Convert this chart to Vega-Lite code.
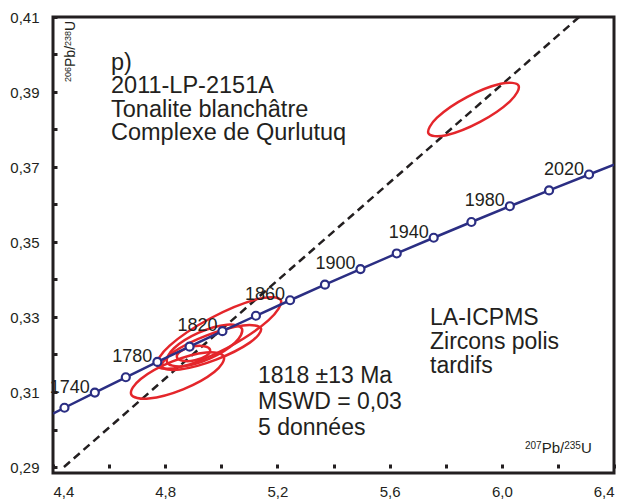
{
 "$schema": "https://vega.github.io/schema/vega-lite/v6.json",
 "width": 561, "height": 456,
 "autosize": {"type": "none"},
 "padding": {"left": 53, "top": 17, "right": 14, "bottom": 29},
 "background": "white",
 "config": {"view": {"stroke": "#231f20", "strokeWidth": 3}, "font": "Liberation Sans"},
 "datasets": {
  "conc": [
   {"t": 1712.3, "x": 4.4, "y": 0.30424, "m": 0},
   {"t": 1720, "x": 4.44089, "y": 0.30580, "m": 1},
   {"t": 1740, "x": 4.54912, "y": 0.30986, "m": 1, "label": "1740"},
   {"t": 1760, "x": 4.65950, "y": 0.31393, "m": 1},
   {"t": 1780, "x": 4.77208, "y": 0.31801, "m": 1, "label": "1780"},
   {"t": 1800, "x": 4.88689, "y": 0.32210, "m": 1},
   {"t": 1820, "x": 5.00400, "y": 0.32621, "m": 1, "label": "1820"},
   {"t": 1840, "x": 5.12342, "y": 0.33033, "m": 1},
   {"t": 1860, "x": 5.24523, "y": 0.33447, "m": 1, "label": "1860"},
   {"t": 1880, "x": 5.36946, "y": 0.33861, "m": 1},
   {"t": 1900, "x": 5.49617, "y": 0.34277, "m": 1, "label": "1900"},
   {"t": 1920, "x": 5.62539, "y": 0.34694, "m": 1},
   {"t": 1940, "x": 5.75719, "y": 0.35113, "m": 1, "label": "1940"},
   {"t": 1960, "x": 5.89160, "y": 0.35533, "m": 1},
   {"t": 1980, "x": 6.02870, "y": 0.35954, "m": 1, "label": "1980"},
   {"t": 2000, "x": 6.16852, "y": 0.36376, "m": 1},
   {"t": 2020, "x": 6.31111, "y": 0.36800, "m": 1, "label": "2020"},
   {"t": 2032.3, "x": 6.4, "y": 0.37062, "m": 0}
  ],
  "ell": [
   {"id": "E1", "k": 0, "x": 5.00912, "y": 0.319395},
   {"id": "E1", "k": 1, "x": 4.94655, "y": 0.320555},
   {"id": "E1", "k": 2, "x": 4.82382, "y": 0.318109},
   {"id": "E1", "k": 3, "x": 4.71282, "y": 0.313491},
   {"id": "E1", "k": 4, "x": 4.67858, "y": 0.309405},
   {"id": "E1", "k": 5, "x": 4.74115, "y": 0.308245},
   {"id": "E1", "k": 6, "x": 4.86388, "y": 0.310691},
   {"id": "E1", "k": 7, "x": 4.97488, "y": 0.315309},
   {"id": "E2", "k": 0, "x": 5.21214, "y": 0.334496},
   {"id": "E2", "k": 1, "x": 5.12748, "y": 0.334760},
   {"id": "E2", "k": 2, "x": 4.96335, "y": 0.329736},
   {"id": "E2", "k": 3, "x": 4.81588, "y": 0.322367},
   {"id": "E2", "k": 4, "x": 4.77146, "y": 0.316970},
   {"id": "E2", "k": 5, "x": 4.85612, "y": 0.316706},
   {"id": "E2", "k": 6, "x": 5.02025, "y": 0.321730},
   {"id": "E2", "k": 7, "x": 5.16772, "y": 0.329099},
   {"id": "E3", "k": 0, "x": 5.07364, "y": 0.326847},
   {"id": "E3", "k": 1, "x": 5.02018, "y": 0.327956},
   {"id": "E3", "k": 2, "x": 4.91981, "y": 0.325811},
   {"id": "E3", "k": 3, "x": 4.83134, "y": 0.321667},
   {"id": "E3", "k": 4, "x": 4.80658, "y": 0.317953},
   {"id": "E3", "k": 5, "x": 4.86005, "y": 0.316844},
   {"id": "E3", "k": 6, "x": 4.96041, "y": 0.318989},
   {"id": "E3", "k": 7, "x": 5.04888, "y": 0.323133},
   {"id": "E4", "k": 0, "x": 4.96017, "y": 0.321210},
   {"id": "E4", "k": 1, "x": 4.93914, "y": 0.322225},
   {"id": "E4", "k": 2, "x": 4.89570, "y": 0.322093},
   {"id": "E4", "k": 3, "x": 4.85530, "y": 0.320892},
   {"id": "E4", "k": 4, "x": 4.84161, "y": 0.319324},
   {"id": "E4", "k": 5, "x": 4.86264, "y": 0.318309},
   {"id": "E4", "k": 6, "x": 4.90608, "y": 0.318441},
   {"id": "E4", "k": 7, "x": 4.94648, "y": 0.319642},
   {"id": "E5", "k": 0, "x": 5.14146, "y": 0.326932},
   {"id": "E5", "k": 1, "x": 5.07805, "y": 0.327737},
   {"id": "E5", "k": 2, "x": 4.94845, "y": 0.325103},
   {"id": "E5", "k": 3, "x": 4.82858, "y": 0.320574},
   {"id": "E5", "k": 4, "x": 4.78866, "y": 0.316802},
   {"id": "E5", "k": 5, "x": 4.85207, "y": 0.315997},
   {"id": "E5", "k": 6, "x": 4.98167, "y": 0.318631},
   {"id": "E5", "k": 7, "x": 5.10154, "y": 0.323160},
   {"id": "E6", "k": 0, "x": 6.05964, "y": 0.391718},
   {"id": "E6", "k": 1, "x": 5.99605, "y": 0.392179},
   {"id": "E6", "k": 2, "x": 5.87568, "y": 0.388629},
   {"id": "E6", "k": 3, "x": 5.76903, "y": 0.383149},
   {"id": "E6", "k": 4, "x": 5.73858, "y": 0.378948},
   {"id": "E6", "k": 5, "x": 5.80217, "y": 0.378488},
   {"id": "E6", "k": 6, "x": 5.92254, "y": 0.382037},
   {"id": "E6", "k": 7, "x": 6.02919, "y": 0.387517}
  ],
  "disc": [
   {"x": 4.4390, "y": 0.29},
   {"x": 6.2758, "y": 0.41}
  ]
 },
 "encoding": {
  "x": {"field": "x", "type": "quantitative",
   "scale": {"domain": [4.4, 6.4], "nice": false, "zero": false},
   "axis": {"values": [4.4, 4.6, 4.8, 5.0, 5.2, 5.4, 5.6, 5.8, 6.0, 6.2, 6.4],
    "title": null, "grid": false, "domain": false,
    "tickSize": -4, "tickWidth": 3, "tickColor": "#231f20", "offset": -5,
    "labelPadding": 20, "labelFontSize": 15, "labelColor": "#231f20", "labelFont": "Liberation Sans",
    "labelOverlap": false,
    "labelExpr": "(round(datum.value*10)%4==0) ? replace(format(datum.value,'.1f'),'.',',') : ''"}},
  "y": {"field": "y", "type": "quantitative",
   "scale": {"domain": [0.2884, 0.41], "nice": false, "zero": false},
   "axis": {"values": [0.29, 0.30, 0.31, 0.32, 0.33, 0.34, 0.35, 0.36, 0.37, 0.38, 0.39, 0.40, 0.41],
    "title": null, "grid": false, "domain": false,
    "tickSize": -4, "tickWidth": 3, "tickColor": "#231f20",
    "labelPadding": 18, "labelFontSize": 15, "labelColor": "#231f20", "labelFont": "Liberation Sans",
    "labelFlush": false, "labelOverlap": false,
    "labelExpr": "(round(datum.value*100)%2==1) ? replace(format(datum.value,'.2f'),'.',',') : ''"}}
 },
 "layer": [
  {"data": {"name": "disc"}, "mark": {"type": "line", "color": "#231f20", "strokeWidth": 2.5, "strokeDash": [8, 5], "clip": true}},
  {"data": {"name": "ell"}, "mark": {"type": "line", "interpolate": "cardinal-closed", "color": "#e4262b", "strokeWidth": 2.5, "clip": true},
   "encoding": {"detail": {"field": "id"}, "order": {"field": "k", "type": "quantitative"}}},
  {"data": {"name": "conc"}, "mark": {"type": "line", "color": "#2b2e83", "strokeWidth": 2.5, "clip": true},
   "encoding": {"order": {"field": "t", "type": "quantitative"}}},
  {"data": {"name": "conc"}, "transform": [{"filter": "datum.m == 1"}],
   "mark": {"type": "point", "shape": "circle", "filled": true, "fill": "white", "stroke": "#2b2e83", "strokeWidth": 2.2, "size": 64, "opacity": 1}},
  {"data": {"name": "conc"}, "transform": [{"filter": "isValid(datum.label)"}],
   "mark": {"type": "text", "align": "right", "baseline": "alphabetic", "dx": -5, "dy": 0, "fontSize": 18, "color": "#231f20", "font": "Liberation Sans"},
   "encoding": {"text": {"field": "label"}}},
  {"data": {"values": [{"x": 4.6068, "y": 0.395867, "txt": "p)\n2011-LP-2151A\nTonalite blanchâtre\nComplexe de Qurlutuq"}]},
   "mark": {"type": "text", "align": "left", "baseline": "alphabetic", "fontSize": 23.5, "lineHeight": 23.5, "lineBreak": "\n", "color": "#231f20", "font": "Liberation Sans"},
   "encoding": {"text": {"field": "txt"}}},
  {"data": {"values": [{"x": 5.13084, "y": 0.3124, "txt": "1818 ±13 Ma\nMSWD = 0,03\n5 données"}]},
   "mark": {"type": "text", "align": "left", "baseline": "alphabetic", "fontSize": 23, "lineHeight": 26, "lineBreak": "\n", "color": "#231f20", "font": "Liberation Sans"},
   "encoding": {"text": {"field": "txt"}}},
  {"data": {"values": [{"x": 5.74403, "y": 0.327867, "txt": "LA-ICPMS\nZircons polis\ntardifs"}]},
   "mark": {"type": "text", "align": "left", "baseline": "alphabetic", "fontSize": 23, "lineHeight": 24, "lineBreak": "\n", "color": "#231f20", "font": "Liberation Sans"},
   "encoding": {"text": {"field": "txt"}}},
  {"data": {"values": [{"x": 6.08271, "y": 0.293733, "txt": "207"}]},
   "mark": {"type": "text", "align": "left", "baseline": "alphabetic", "fontSize": 10, "dy": -4.5, "color": "#231f20", "font": "Liberation Sans"},
   "encoding": {"text": {"field": "txt"}}},
  {"data": {"values": [{"x": 6.08271, "y": 0.293733, "txt": "Pb/"}]},
   "mark": {"type": "text", "align": "left", "baseline": "alphabetic", "fontSize": 15, "dx": 16.7, "color": "#231f20", "font": "Liberation Sans"},
   "encoding": {"text": {"field": "txt"}}},
  {"data": {"values": [{"x": 6.08271, "y": 0.293733, "txt": "235"}]},
   "mark": {"type": "text", "align": "left", "baseline": "alphabetic", "fontSize": 10, "dx": 39.2, "dy": -4.5, "color": "#231f20", "font": "Liberation Sans"},
   "encoding": {"text": {"field": "txt"}}},
  {"data": {"values": [{"x": 6.08271, "y": 0.293733, "txt": "U"}]},
   "mark": {"type": "text", "align": "left", "baseline": "alphabetic", "fontSize": 15, "dx": 55.9, "color": "#231f20", "font": "Liberation Sans"},
   "encoding": {"text": {"field": "txt"}}},
  {"data": {"values": [{"x": 4.47843, "y": 0.392667, "txt": "206"}]},
   "mark": {"type": "text", "align": "left", "baseline": "alphabetic", "angle": 270, "fontSize": 9, "dy": -4, "color": "#231f20", "font": "Liberation Sans"},
   "encoding": {"text": {"field": "txt"}}},
  {"data": {"values": [{"x": 4.47843, "y": 0.392667, "txt": "Pb/"}]},
   "mark": {"type": "text", "align": "left", "baseline": "alphabetic", "angle": 270, "fontSize": 14, "dx": 15, "color": "#231f20", "font": "Liberation Sans"},
   "encoding": {"text": {"field": "txt"}}},
  {"data": {"values": [{"x": 4.47843, "y": 0.392667, "txt": "238"}]},
   "mark": {"type": "text", "align": "left", "baseline": "alphabetic", "angle": 270, "fontSize": 9, "dx": 36, "dy": -4, "color": "#231f20", "font": "Liberation Sans"},
   "encoding": {"text": {"field": "txt"}}},
  {"data": {"values": [{"x": 4.47843, "y": 0.392667, "txt": "U"}]},
   "mark": {"type": "text", "align": "left", "baseline": "alphabetic", "angle": 270, "fontSize": 14, "dx": 51, "color": "#231f20", "font": "Liberation Sans"},
   "encoding": {"text": {"field": "txt"}}}
 ]
}
